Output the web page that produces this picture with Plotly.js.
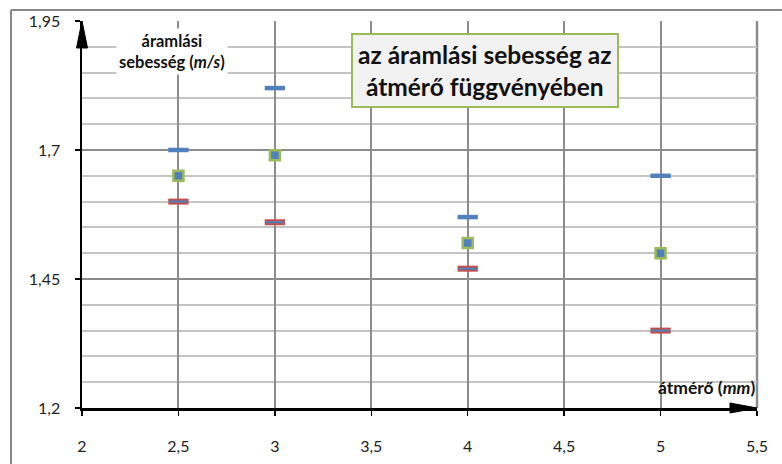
<!DOCTYPE html>
<html>
<head>
<meta charset="utf-8">
<script src="https://cdn.plot.ly/plotly-3.0.1.min.js"></script>
<style>html,body{margin:0;padding:0;background:#fff;overflow:hidden}#chart{width:782px;height:464px}</style>
</head>
<body>
<div id="chart"></div>
<script>
// diameters (mm)
var diameters = [2.5, 3, 4, 5];
// flow speed (m/s)
var speedMax  = [1.70, 1.82, 1.57, 1.65];
var speedMean = [1.65, 1.69, 1.52, 1.50];
var speedMin  = [1.60, 1.56, 1.47, 1.35];

var blue = '#4F81BD', red = '#C0504D', green = '#9BBB59';

var traces = [
  {x: diameters, y: speedMax, mode: 'markers', type: 'scatter',
   marker: {symbol: 'line-ew', size: 14.5, line: {width: 4.5, color: blue}}},
  {x: diameters, y: speedMin, mode: 'markers', type: 'scatter',
   marker: {symbol: 'line-ew', size: 14.5, line: {width: 6, color: red}}},
  {x: diameters, y: speedMin, mode: 'markers', type: 'scatter',
   marker: {symbol: 'line-ew', size: 13, line: {width: 2, color: blue}}},
  {x: diameters, y: speedMean, mode: 'markers', type: 'scatter',
   marker: {symbol: 'square', size: 10, color: blue, line: {width: 2.5, color: green}}}
];

var font = 'Lato, "Open Sans", sans-serif';
var layout = {
  width: 782, height: 464,
  margin: {l: 82, r: 25, t: 21, b: 56},
  paper_bgcolor: '#fff', plot_bgcolor: '#fff',
  separators: ', ',
  showlegend: false,
  font: {family: font, size: 16, color: '#222'},
  xaxis: {
    range: [2, 5.5], dtick: 0.5, tick0: 2,
    showgrid: true, gridcolor: '#8c8c8c', gridwidth: 2,
    zeroline: false, showline: true, linecolor: '#000', linewidth: 2.5,
    ticks: 'outside', ticklen: 5, tickwidth: 1.5, tickcolor: '#000',
    ticklabelstandoff: 17, fixedrange: true
  },
  yaxis: {
    range: [1.2, 1.95], dtick: 0.25, tick0: 1.2,
    showgrid: true, gridcolor: '#8c8c8c', gridwidth: 2,
    minor: {dtick: 0.05, showgrid: true, gridcolor: '#c4c4c4', gridwidth: 2},
    zeroline: false, showline: true, linecolor: '#000', linewidth: 2.5,
    ticks: 'outside', ticklen: 5, tickwidth: 1.5, tickcolor: '#000',
    ticklabelstandoff: 11, fixedrange: true
  },
  shapes: [
    {type: 'line', xref: 'paper', yref: 'paper', x0: -0.1052, x1: 1.037, y0: 1.0284, y1: 1.0284,
     line: {color: '#878787', width: 2}, layer: 'below'},
    {type: 'line', xref: 'paper', yref: 'paper', x0: -0.1052, x1: -0.1052, y0: -0.145, y1: 1.0284,
     line: {color: '#878787', width: 2}, layer: 'below'},
    {type: 'line', xref: 'paper', yref: 'paper', x0: 1, x1: 1, y0: 0, y1: 1,
     line: {color: '#8c8c8c', width: 2.5}, layer: 'below'},
    {type: 'path', xref: 'paper', yref: 'paper', xsizemode: 'pixel', ysizemode: 'pixel',
     xanchor: 0, yanchor: 1, path: 'M -5.5,-27 L 0,0 L 5.5,-27 Z',
     fillcolor: '#000', line: {color: '#000', width: 1}, layer: 'above'},
    {type: 'path', xref: 'paper', yref: 'paper', xsizemode: 'pixel', ysizemode: 'pixel',
     xanchor: 1, yanchor: 0, path: 'M -27,-5 L 0,0 L -27,5 Z',
     fillcolor: '#000', line: {color: '#000', width: 1}, layer: 'above'}
  ],
  annotations: [
    {xref: 'paper', yref: 'paper', x: 0.1333, y: 0.92, xanchor: 'center', yanchor: 'middle',
     showarrow: false,
     text: '<b>áramlási<br>sebesség (<i>m/s</i>)</b>', align: 'center',
     font: {family: font, size: 16.5, color: '#111'}, bgcolor: '#fff', borderpad: 2},
    {xref: 'paper', yref: 'paper', x: 0.597, y: 0.873, xanchor: 'center', yanchor: 'middle',
     showarrow: false,
     text: '<b>az áramlási sebesség az<br>átmérő függvényében</b>', align: 'center',
     font: {family: font, size: 24.5, color: '#111'}, bgcolor: '#f2f2f2',
     bordercolor: green, borderwidth: 2, borderpad: 5},
    {xref: 'paper', yref: 'paper', x: 1, y: 0.0517, xanchor: 'right', yanchor: 'middle',
     showarrow: false,
     text: '<b>átmérő (<i>mm</i>)</b>', font: {family: font, size: 17.5, color: '#111'}}
  ]
};

Plotly.newPlot('chart', traces, layout, {staticPlot: true});
</script>
</body>
</html>
